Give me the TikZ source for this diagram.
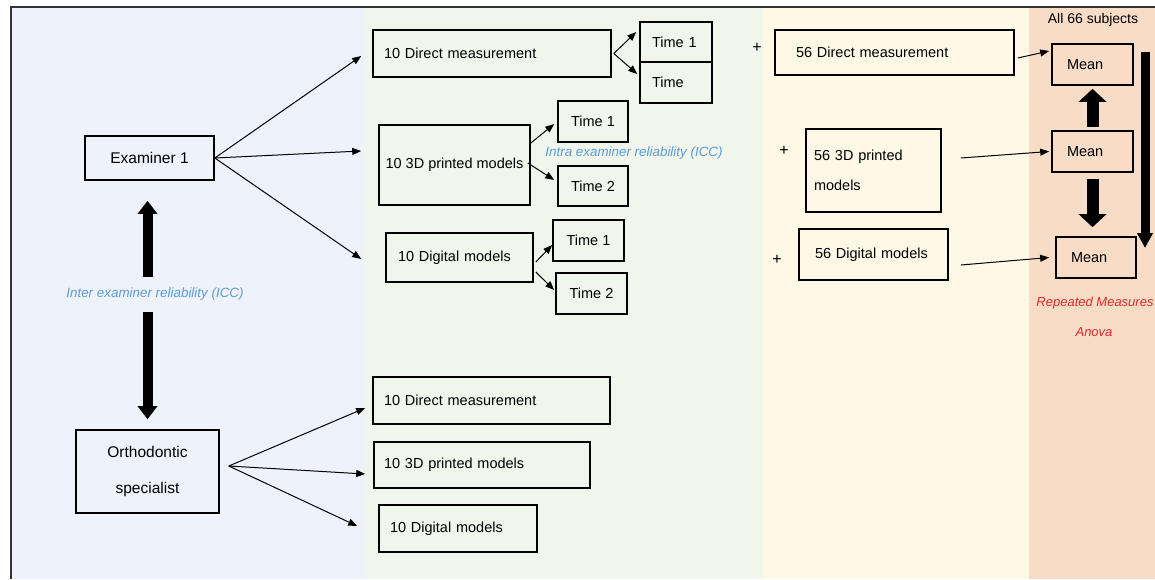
\documentclass[tikz,border=0pt]{standalone}
\usepackage{fontspec}
\setmainfont{Liberation Sans}
\usepackage{tikz}
\usetikzlibrary{arrows.meta,positioning}
\definecolor{panelblue}{HTML}{EEF3FB}
\definecolor{panelgreen}{HTML}{F1F6EC}
\definecolor{panelcream}{HTML}{FEF8E7}
\definecolor{panelpeach}{HTML}{F9DCC6}
\definecolor{iccblue}{HTML}{5B9BD5}
\definecolor{anovared}{HTML}{DD2A2A}
\newcommand\boxfont{\fontsize{14.5}{17}\selectfont}
\tikzset{box/.style={draw=black,line width=1.6pt,inner sep=0pt,font=\boxfont,align=center},
  sbox/.style 2 args={box,minimum width=#1pt,minimum height=#2pt},
  lbox/.style n args={3}{box,minimum width=#1pt,minimum height=#2pt,inner xsep=#3pt,text width=#1pt-2*#3pt,align=left},
  arr/.style={-{Triangle[length=9pt,width=7pt]},line width=1pt},
  fat/.style={-{Triangle[length=13pt,width=19pt]},line width=10pt},
  icc/.style={text=iccblue,font=\itshape\fontsize{#1}{15}\selectfont,inner sep=0pt},
  plus/.style={font=\fontsize{16}{18}\selectfont}}

\begin{document}
\begin{tikzpicture}[x=1pt,y=-1pt]
      \useasboundingbox (0,0) rectangle (1155,579);
      \fill[panelblue] (12,8) rectangle (365,579);
      \fill[panelgreen] (365,8) rectangle (763,579);
      \fill[panelcream] (763,8) rectangle (1029,579);
      \fill[panelpeach] (1029,8) rectangle (1155,579);
      \draw[line width=1.5pt,black!80] (11,579)--(11,7)--(1155,7);
      \node[sbox={129}{44},font=\fontsize{15.5}{18}\selectfont] at (149.5,158) (e1) {Examiner 1};
      \node[sbox={143}{83},font=\fontsize{15.5}{18}\selectfont] at (147.5,471.5) (os) {Orthodontic\\[18pt]specialist};
      \node[icc=13.4,minimum height=35pt] at (155,294.5) (inter) {Inter examiner reliability (ICC)};
      \draw[fat,shorten >=20pt] (os.north |- inter.north)--(os.north |- e1.south);
      \draw[fat,shorten >=10pt] (os.north |- inter.south)--(os.north);
      \node[lbox={238}{47}{11}] at (492,53.5) (dm) {10 Direct measurement};
      \node[lbox={72}{40}{12}] at (676,42) (t1a) {Time 1};
      \node[lbox={72}{41}{12}] at (676,82.5) (t2a) {Time};
      \node[sbox={151}{80}] at (454.5,165) (pm) {10 3D printed models};
      \node[sbox={70}{41}] at (593,121.5) (t1b) {Time 1};
      \node[sbox={70}{40}] at (593,186) (t2b) {Time 2};
      \node[lbox={147}{49}{12}] at (459.5,257.5) (dig) {10 Digital models};
      \node[sbox={71}{41}] at (588.5,240.5) (t1c) {Time 1};
      \node[sbox={71}{41}] at (591.5,293.5) (t2c) {Time 2};
      \node[icc=13.4] at (634,153) (intra) {Intra examiner reliability (ICC)};
      \draw[arr] (e1.east)--([xshift=-11pt,yshift=-2.5pt]dm.west);
      \draw[arr] (e1.east)--([xshift=-17pt,yshift=14pt]pm.west);
      \draw[arr] (e1.east)--([xshift=-24pt,yshift=-1.5pt]dig.west);
      \draw[arr] ([xshift=2pt]dm.east)--([xshift=-3pt,yshift=10pt]t1a.west);
      \draw[arr] ([xshift=2pt]dm.east)--([xshift=-2pt,yshift=8.5pt]t2a.west);
      \draw[arr] ([yshift=22pt]pm.east)--([xshift=-3pt,yshift=-2.5pt]t1b.west);
      \draw[arr] ([xshift=-3pt,yshift=2pt]pm.east)--([xshift=-3pt,yshift=6pt]t2b.west);
      \draw[arr] ([xshift=2pt,yshift=-4.5pt]dig.east)--([yshift=-4.5pt]t1c.west);
      \draw[arr] ([xshift=2pt,yshift=-14.5pt]dig.east)--([xshift=-1pt,yshift=3.5pt]t2c.west);
      \node[lbox={237}{47}{11}] at (491.5,400.5) (odm) {10 Direct measurement};
      \node[lbox={216}{46}{10}] at (482,465) (opm) {10 3D printed models};
      \node[lbox={158}{47}{11}] at (458,528.5) (odig) {10 Digital models};
      \draw[arr] ([xshift=9pt,yshift=5.5pt]os.east)--([xshift=-7pt,yshift=-7.5pt]odm.west);
      \draw[arr] ([xshift=9pt,yshift=5.5pt]os.east)--([xshift=-8pt,yshift=-9pt]opm.west);
      \draw[arr] ([xshift=9pt,yshift=5.5pt]os.east)--([xshift=-21pt,yshift=2.5pt]odig.west);
      \node[plus] at (757,48) (p1) {+};
      \node[plus] at (784,151) (p2) {+};
      \node[plus] at (777,260) (p3) {+};
      \node[lbox={239}{45}{21}] at (894.5,52.5) (sdm) {56 Direct measurement};
      \node[lbox={135}{83}{8}] at (873.5,170.5) (spm) {56 3D printed\\[13pt]models};
      \node[lbox={149}{51}{16}] at (873.5,254.5) (sdig) {56 Digital models};
      \node[font=\fontsize{14}{16}\selectfont] at (1093,20) (all) {All 66 subjects};
      \node[lbox={81}{41}{15}] at (1092.5,64.5) (m1) {Mean};
      \node[lbox={81}{41}{15}] at (1092.5,151.5) (m2) {Mean};
      \node[lbox={80}{41}{15}] at (1096,257.5) (m3) {Mean};
      \draw[arr] ([xshift=3pt,yshift=-5.5pt]sdm.east)--([xshift=-2pt,yshift=13.5pt]m1.west);
      \draw[arr] ([xshift=19pt,yshift=12.5pt]spm.east)--([xshift=-2pt]m2.west);
      \draw[arr] ([xshift=12pt,yshift=-10.5pt]sdig.east)--([xshift=-6pt]m3.west);
      \draw[fat,line width=12pt,-{Triangle[length=13pt,width=27pt]},shorten <=3pt,shorten >=3pt] (m2.north)--(m1.south);
      \draw[fat,line width=12pt,-{Triangle[length=13pt,width=27pt]},shorten <=6pt,shorten >=9pt] (m2.south)--(m2.south |- m3.north);
      \coordinate (rtop) at (1145,52);
      \coordinate (rbot) at (1145,248);
      \draw[fat,line width=9pt,-{Triangle[length=15pt,width=15pt]}] (rtop)--(rbot);
      \node[text=anovared,font=\itshape\fontsize{13}{15}\selectfont] at (1095,303) (rm) {Repeated Measures};
      \node[text=anovared,font=\itshape\fontsize{13}{15}\selectfont] at (1094,332) (anova) {Anova};
    \end{tikzpicture}
\end{document}
